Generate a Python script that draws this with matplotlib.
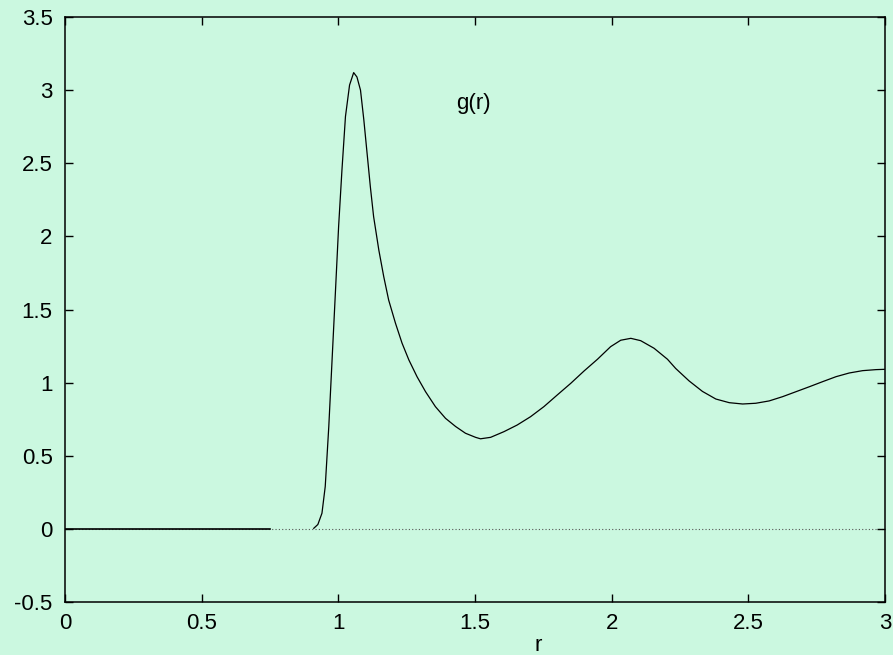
"""
Radial distribution function g(r), gnuplot-style look
"""

import matplotlib
matplotlib.use('Agg')
import matplotlib.pyplot as plt

plt.rcParams['font.family'] = ['Liberation Sans', 'DejaVu Sans']
plt.rcParams['font.size'] = 16

# g(r) (flat zero part, then the peaks)
r_flat = [0.0, 0.75]
g_flat = [0.0, 0.0]

r_vals = [0.910, 0.925, 0.940, 0.952, 0.965, 0.977, 0.989, 1.001, 1.013,
          1.026, 1.041, 1.056, 1.068, 1.081, 1.093, 1.105, 1.117, 1.129,
          1.148, 1.166, 1.184, 1.209, 1.233, 1.258, 1.288, 1.319, 1.355,
          1.392, 1.429, 1.465, 1.502, 1.520, 1.557, 1.606, 1.654, 1.703,
          1.752, 1.801, 1.850, 1.899, 1.948, 1.996, 2.033, 2.070, 2.106,
          2.155, 2.204, 2.234, 2.283, 2.332, 2.381, 2.430, 2.479, 2.527,
          2.576, 2.625, 2.674, 2.723, 2.772, 2.821, 2.869, 2.918, 2.967,
          2.997]
g_vals = [0.004, 0.030, 0.107, 0.290, 0.700, 1.155, 1.610, 2.070, 2.450,
          2.820, 3.035, 3.120, 3.090, 3.000, 2.800, 2.570, 2.340, 2.135,
          1.907, 1.725, 1.565, 1.406, 1.270, 1.155, 1.040, 0.938, 0.836,
          0.756, 0.700, 0.654, 0.626, 0.616, 0.626, 0.665, 0.710, 0.767,
          0.836, 0.916, 0.995, 1.080, 1.160, 1.246, 1.290, 1.303, 1.287,
          1.235, 1.160, 1.097, 1.012, 0.940, 0.888, 0.863, 0.854, 0.859,
          0.875, 0.904, 0.938, 0.972, 1.007, 1.041, 1.066, 1.082, 1.089,
          1.091]

xticks = [0, 0.5, 1, 1.5, 2, 2.5, 3]
yticks = [-0.5, 0, 0.5, 1, 1.5, 2, 2.5, 3, 3.5]

bg = '#cbf8e0'

fig = plt.figure(figsize=(8.93, 6.55), dpi=100, facecolor=bg)
ax = fig.add_axes([0.0728, 0.0809, 0.9183, 0.8931], facecolor=bg)

# zero axis (dotted)
ax.axhline(0, color='#555555', linestyle=(0, (1, 2)), linewidth=0.8, zorder=1)

ax.plot(r_flat, g_flat, color='black', linewidth=1.2, zorder=3)
ax.plot(r_vals, g_vals, color='black', linewidth=0.9, zorder=3)

ax.text(1.495, 2.91, 'g(r)', ha='center', va='center', fontsize=16)

ax.set_xlim(0, 3)
ax.set_ylim(-0.5, 3.5)
ax.set_xticks(xticks)
ax.set_xticklabels([f'{t:g}' for t in xticks])
ax.set_yticks(yticks)
ax.set_yticklabels([f'{t:g}' for t in yticks])
ax.tick_params(direction='in', length=6, width=1, top=True, right=True,
               labelsize=16)
ax.tick_params(axis='y', pad=9)
ax.tick_params(axis='x', pad=8)

for s in ax.spines.values():
    s.set_linewidth(1.1)

ax.set_xlabel('r', fontsize=16)
ax.xaxis.label.set_va('center')
ax.xaxis.set_label_coords(0.577, -0.075)

fig.savefig('out.png', dpi=100, facecolor=bg)
plt.close(fig)
